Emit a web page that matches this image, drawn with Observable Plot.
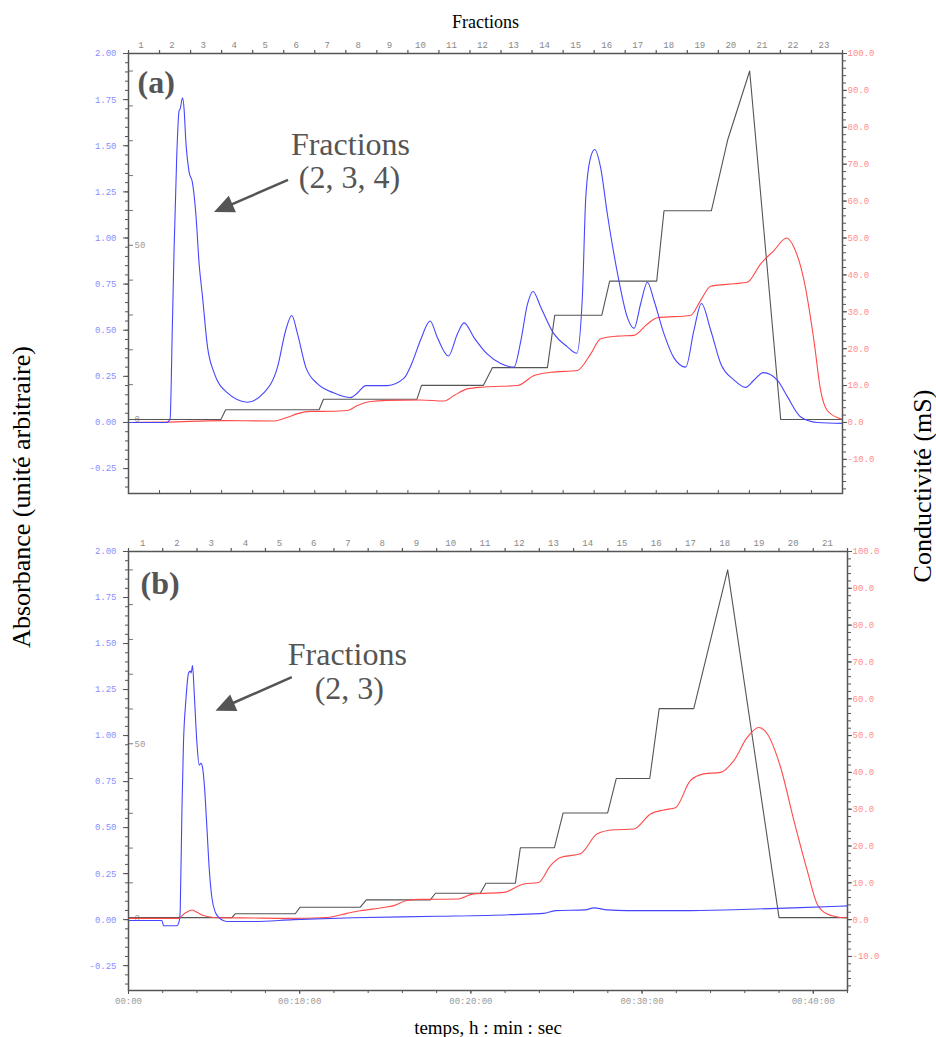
<!DOCTYPE html>
<html>
<head>
<meta charset="utf-8">
<script src="https://cdn.jsdelivr.net/npm/d3@7"></script>
<script src="https://cdn.jsdelivr.net/npm/@observablehq/plot@0.6"></script>
<style>
  html, body { margin: 0; padding: 0; background: #fff; }
  #wrap { position: relative; width: 936px; height: 1037px; overflow: hidden; background: #fff; }
  .panel { position: absolute; left: 0; }
  .ytitle { position: absolute; white-space: nowrap; font-family: "Liberation Serif", serif; font-size: 26px; color: #000;
            transform: translate(-50%, -50%) rotate(-90deg); line-height: 1; }
</style>
</head>
<body>
<div id="wrap">
  <div id="pa" class="panel" style="top:0px"></div>
  <div id="pb" class="panel" style="top:500px"></div>
  <div class="ytitle" style="left:22px; top:497px">Absorbance (unité arbitraire)</div>
  <div class="ytitle" style="left:923px; top:486px">Conductivité (mS)</div>
</div>
<script>
// ---------------- DATA ----------------
// time in minutes ; absorbance (a.u.) ; conductivity (mS) ; gradient (%B)
const fractionsA = d3.range(1, 24);          // 23 fractions
const fractionsB = d3.range(1, 22);          // 21 fractions
const fractionMinutes = 2;

const absTicks = [-0.25, 0, 0.25, 0.5, 0.75, 1, 1.25, 1.5, 1.75, 2];
const condTicks = [-10, 0, 10, 20, 30, 40, 50, 60, 70, 80, 90, 100];
const gradTickLabels = [0, 50];
const timeTicks = [0, 10, 20, 30, 40];
const timeLabels = ["00:00", "00:10:00", "00:20:00", "00:30:00", "00:40:00"];

const absorbanceA = [
[0,0],[2.47,0],[2.68,0.02],[2.82,0.5],[2.94,0.95],[3.11,1.45],[3.26,1.69],[3.33,1.70],[3.48,1.76],[3.58,1.70],
[3.69,1.53],[3.90,1.36],[4.12,1.30],[4.34,1.13],[4.55,0.86],[4.77,0.68],[5.09,0.41],[5.51,0.27],[6.38,0.16],
[7.66,0.11],[8.71,0.16],[9.60,0.30],[10.13,0.50],[10.52,0.58],[10.89,0.48],[11.42,0.30],[12.17,0.21],[13.24,0.16],
[14.32,0.135],[14.75,0.16],[15.29,0.20],[16.68,0.20],[17.75,0.24],[18.25,0.32],[18.83,0.45],[19.43,0.55],[19.90,0.46],
[20.61,0.36],[21.19,0.48],[21.62,0.54],[22.26,0.46],[23.12,0.37],[23.98,0.32],[24.84,0.30],[25.27,0.44],[25.70,0.64],
[26.06,0.71],[26.56,0.625],[27.41,0.48],[28.28,0.41],[28.88,0.375],[29.24,0.68],[29.46,1.22],[29.78,1.44],[30.04,1.48],
[30.42,1.38],[30.85,1.13],[31.50,0.81],[32.14,0.57],[32.57,0.51],[33.00,0.645],[33.43,0.76],[33.86,0.66],[34.50,0.48],
[35.14,0.35],[35.90,0.30],[36.43,0.50],[36.91,0.645],[37.51,0.50],[38.15,0.32],[39.01,0.23],[39.76,0.19],[40.30,0.23],
[40.90,0.27],[41.80,0.23],[42.45,0.14],[43.31,0.03],[44.38,0.0],[46,-0.005]
];
const conductivityA = [
[0,0],[2.5,0.1],[6.0,0.5],[9.4,0.4],[10.24,1.4],[10.89,2.4],[11.74,3.0],[12.38,3.0],[14.10,3.25],[14.75,4.6],
[15.61,5.7],[16.68,6.0],[18.83,6.1],[20.33,5.8],[20.97,7.3],[21.83,9.1],[22.91,9.6],[25.06,10.0],[26.13,12.7],
[27.20,13.6],[28.92,14.1],[29.78,18.6],[30.42,22.7],[31.50,23.4],[32.57,23.6],[33.43,26.7],[34.07,28.4],[36.21,29.0],
[36.86,33.1],[37.51,36.9],[39.01,37.6],[39.87,38.0],[40.73,43.0],[41.58,46.6],[42.40,50.0],[42.87,47.5],[43.52,38.5],
[44.16,22.2],[44.59,8.7],[45.02,3.25],[45.87,1.0],[46,0.8]
];
const gradientA = [
[0,0],[5.95,0],[6.26,2.8],[12.28,2.8],[12.56,5.8],[18.58,5.8],[18.88,9.8],[22.87,9.8],[23.45,14.9],[26.99,14.9],
[27.46,29.9],[30.49,29.9],[31.00,39.7],[34.03,39.7],[34.50,59.9],[37.55,59.9],[38.60,80.2],[40.02,100],[42.02,0],[46,0]
];

const absorbanceB = [
[0,-0.005],[1.95,-0.005],[2.05,-0.033],[2.83,-0.033],[2.98,0.0],[3.02,0.05],[3.12,0.59],[3.21,0.955],[3.35,1.19],
[3.51,1.34],[3.61,1.35],[3.66,1.34],[3.74,1.38],[3.84,1.23],[4.00,0.955],[4.13,0.84],[4.23,0.85],[4.32,0.83],
[4.44,0.72],[4.58,0.50],[4.72,0.27],[4.87,0.12],[5.07,0.04],[5.36,0.005],[5.75,-0.01],[7.31,-0.01],[9.64,0.0],
[13.15,0.01],[18.02,0.018],[22.31,0.027],[24.25,0.034],[24.94,0.049],[26.69,0.053],[27.18,0.064],[27.96,0.053],
[29.13,0.049],[32.44,0.049],[35.36,0.054],[39.26,0.065],[42,0.075]
];
const conductivityB = [
[0,0.35],[2.92,0.35],[3.31,1.8],[3.71,2.6],[4.00,2.0],[4.38,1.1],[4.97,0.6],[7.31,0.45],[9.26,0.35],[11.60,0.6],
[12.76,1.7],[13.54,2.4],[14.90,3.3],[15.49,3.8],[16.27,5.2],[17.05,5.5],[19.19,5.6],[20.16,7.0],[21.92,7.4],
[23.09,9.7],[23.96,10.1],[24.65,14.7],[25.23,16.9],[26.40,17.9],[27.38,23.3],[28.35,24.4],[29.51,24.6],[30.49,28.7],
[31.27,29.8],[31.95,30.4],[32.83,37.8],[33.61,39.6],[34.58,40.0],[35.36,43.2],[36.14,49.5],[36.82,52.2],[37.31,50.5],
[38.09,41.4],[38.87,26.9],[39.65,13.3],[40.23,4.2],[40.82,1.5],[41.59,0.6],[42,0.5]
];
const gradientB = [
[0,0],[6.04,0],[6.23,1.1],[9.74,1.1],[10.03,3.0],[13.54,3.0],[13.89,5.1],[17.63,5.1],[17.93,7.0],[20.55,7.0],
[20.88,9.9],[22.60,9.9],[22.89,20.1],[24.88,20.1],[25.39,30.1],[27.99,30.1],[28.49,40.0],[30.45,40.0],[31.00,60.1],
[33.02,60.1],[35.00,100],[38.00,0],[42,0]
];

const textsA = [{x: 14.30, y: 1.452, text: "Fractions"}, {x: 14.24, y: 1.270, text: "(2, 3, 4)"}];
const textsB = [{x: 12.78, y: 1.385, text: "Fractions"}, {x: 12.90, y: 1.198, text: "(2, 3)"}];
const arrowsA = [{x1: 10.31, y1: 1.312, x2: 5.54, y2: 1.138}];
const arrowsB = [{x1: 9.57, y1: 1.315, x2: 5.11, y2: 1.132}];

// ---------------- DRAWING ----------------
const condToAbs = c => c / 50;

function arrowMark(arrows) {
  return (index, scales) => {
    const g = d3.create("svg:g");
    for (const a of arrows) {
      const x1 = scales.x(a.x1), y1 = scales.y(a.y1), x2 = scales.x(a.x2), y2 = scales.y(a.y2);
      const L = Math.hypot(x2 - x1, y2 - y1), ux = (x2 - x1) / L, uy = (y2 - y1) / L;
      const hl = 20, hw = 9;
      const bx = x2 - ux * hl, by = y2 - uy * hl;
      g.append("line").attr("x1", x1).attr("y1", y1).attr("x2", bx + ux * 2).attr("y2", by + uy * 2)
        .attr("stroke", "#555").attr("stroke-width", 2.5);
      g.append("path").attr("d", `M${x2},${y2}L${bx - uy * hw},${by + ux * hw}L${bx + uy * hw},${by - ux * hw}Z`)
        .attr("fill", "#555");
    }
    return g.node();
  };
}

function panel(o) {
  const W = 936;
  const plotW = W - 128 - o.marginRight;
  const plotH = o.height - o.marginTop - o.marginBottom;
  const gradToAbs = b => o.gradZero + b * 0.01889;
  const marks = [
    // top fraction axis
    Plot.axisX(d3.range(0, o.xMax + 0.001, fractionMinutes), {anchor: "top", tickSize: 4, fill: "none", stroke: "#555", strokeWidth: 1.2, label: null}),
    Plot.axisX(o.fractions.map(k => (k - 0.5) * fractionMinutes), {anchor: "top", tickSize: 0, tickPadding: 6, dx: -3,
      tickFormat: d => String(Math.round(d / fractionMinutes + 0.5)), fill: "#888", label: null}),
    // left absorbance axis
    Plot.axisY(d3.range(-0.35, 2.001, 0.05).map(v => Math.round(v * 100) / 100), {anchor: "left", tickSize: 3, fill: "none", stroke: "#555", label: null}),
    Plot.axisY(absTicks, {anchor: "left", tickSize: 5, tickPadding: 7, tickFormat: d => d.toFixed(2), fill: "#8c8cff", stroke: "#555", label: null}),
    // right conductivity axis
    Plot.axisY(d3.range(-18, 101, 2).map(condToAbs), {anchor: "right", tickSize: 3, fill: "none", stroke: "#555", label: null}),
    Plot.axisY(condTicks.map(condToAbs), {anchor: "right", tickSize: 4, tickPadding: 1, tickFormat: d => (d * 50).toFixed(1), fill: "#ff8c8c", stroke: "#555", label: null}),
    // inner gradient ticks & labels
    Plot.ruleY(d3.range(0, 101, 10), {y: b => gradToAbs(b), insetRight: plotW - 5, stroke: "#777"}),
    Plot.text(gradTickLabels, {y: b => gradToAbs(b), text: b => String(b), frameAnchor: "left", dx: 6, textAnchor: "start", fill: "#999", fontSize: 9}),
    // series
    Plot.line(o.grad, {x: d => d[0], y: d => gradToAbs(d[1]), stroke: "#555", strokeWidth: 1.1}),
    Plot.line(o.cond, {x: d => d[0], y: d => condToAbs(d[1]), stroke: "#ff4a4a", strokeWidth: 1.1, curve: "monotone-x"}),
    Plot.line(o.abs, {x: d => d[0], y: d => d[1], stroke: "#4646ff", strokeWidth: 1.1, curve: "monotone-x"}),
    Plot.frame({stroke: "#555", strokeWidth: 1.5}),
    // annotations
    Plot.text([o.label], {frameAnchor: "top-left", dx: o.labelDx, dy: o.labelDy, text: d => d, textAnchor: "start", lineAnchor: "bottom",
      fontFamily: "Liberation Serif", fontWeight: "bold", fontSize: 32, fill: "#555"}),
    Plot.text(o.texts, {x: "x", y: "y", text: "text", lineAnchor: "bottom", fontFamily: "Liberation Serif", fontSize: 32, fill: "#555"}),
    arrowMark(o.arrows)
  ];
  if (o.title) marks.push(Plot.text([o.title], {frameAnchor: "top", dy: -26, lineAnchor: "bottom", text: d => d,
      fontFamily: "Liberation Serif", fontSize: 18, fill: "#000"}));
  if (o.timeAxis) {
    marks.push(Plot.axisX(d3.range(0, o.xMax + 0.001, 2), {anchor: "bottom", tickSize: 3, fill: "none", stroke: "#555", label: null}));
    marks.push(Plot.axisX(timeTicks, {anchor: "bottom", tickSize: 4, tickPadding: 3, tickFormat: d => timeLabels[timeTicks.indexOf(d)], fill: "#999", stroke: "#555", label: null}));
    marks.push(Plot.text([o.xTitle], {frameAnchor: "bottom", dy: 43, lineAnchor: "bottom", text: d => d,
      fontFamily: "Liberation Serif", fontSize: 19, fill: "#000"}));
  } else {
    marks.push(Plot.ruleX(d3.range(fractionMinutes, o.xMax, fractionMinutes), {insetTop: plotH - 3, stroke: "#555"}));
  }
  return Plot.plot({
    width: W, height: o.height,
    marginLeft: 128, marginRight: o.marginRight, marginTop: o.marginTop, marginBottom: o.marginBottom,
    x: {domain: [0, o.xMax], axis: null},
    y: {domain: [-0.385, 2.0], axis: null},
    style: {fontFamily: "'Liberation Mono', monospace", fontSize: "9px", background: "transparent", overflow: "visible"},
    marks
  });
}

document.getElementById("pa").append(panel({
  height: 500, marginTop: 53, marginBottom: 7, marginRight: 94, xMax: 46,
  fractions: fractionsA, abs: absorbanceA, cond: conductivityA, grad: gradientA, gradZero: 0.016,
  label: "(a)", labelDx: 9, labelDy: 39, texts: textsA, arrows: arrowsA, title: "Fractions"
}));
document.getElementById("pb").append(panel({
  height: 537, marginTop: 51, marginBottom: 47, marginRight: 89, xMax: 42,
  fractions: fractionsB, abs: absorbanceB, cond: conductivityB, grad: gradientB, gradZero: 0.011,
  label: "(b)", labelDx: 12, labelDy: 42, texts: textsB, arrows: arrowsB, timeAxis: true, xTitle: "temps, h : min : sec"
}));
</script>
</body>
</html>
